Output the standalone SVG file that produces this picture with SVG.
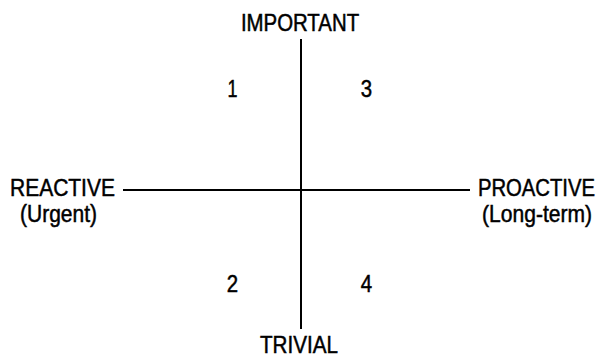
<svg xmlns="http://www.w3.org/2000/svg" width="603" height="357" viewBox="0 0 603 357">
<style>
text{font-family:"Liberation Sans",Arial,sans-serif;font-size:24px;fill:#000;stroke:#000;stroke-width:0.5}
.ax{stroke:#000;stroke-width:2;fill:none}
</style>
<rect width="603" height="357" fill="#fff"/>
<g id="connectors">
<line class="ax" x1="301" y1="39" x2="301" y2="329"/>
<line class="ax" x1="123" y1="190" x2="470" y2="190"/>
</g>
<g id="important"><text transform="translate(300,31) scale(0.85,1)" text-anchor="middle">IMPORTANT</text></g>
<g id="trivial"><text transform="translate(299,353) scale(0.86,1)" text-anchor="middle">TRIVIAL</text></g>
<g id="reactive"><text transform="translate(10,196) scale(0.875,1)">REACTIVE</text><text transform="translate(20,222) scale(0.875,1)">(Urgent)</text></g>
<g id="proactive"><text transform="translate(595,196) scale(0.845,1)" text-anchor="end">PROACTIVE</text><text transform="translate(592,222) scale(0.877,1)" text-anchor="end">(Long-term)</text></g>
<g id="q1"><text transform="translate(232.5,97) scale(0.75,1)" text-anchor="middle">1</text></g>
<g id="q3"><text transform="translate(366.5,97) scale(0.85,1)" text-anchor="middle">3</text></g>
<g id="q2"><text transform="translate(232.5,292) scale(0.85,1)" text-anchor="middle">2</text></g>
<g id="q4"><text transform="translate(366.5,292) scale(0.85,1)" text-anchor="middle">4</text></g>
</svg>
